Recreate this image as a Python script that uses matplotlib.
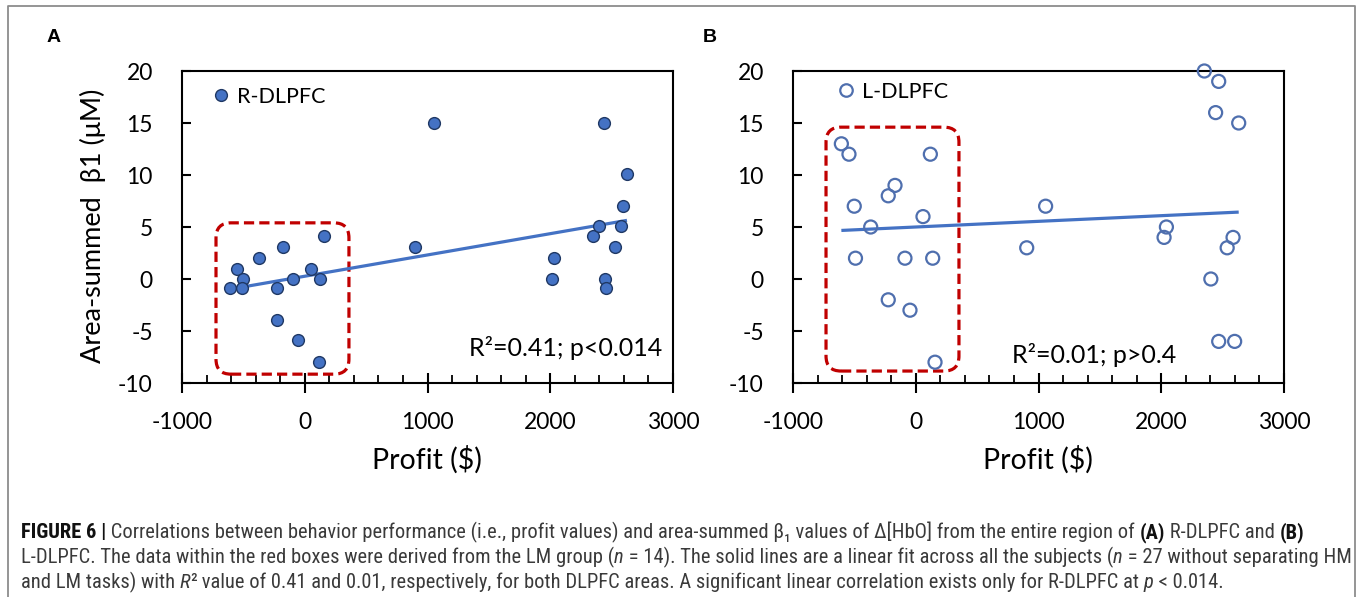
import numpy as np
import matplotlib
matplotlib.use("Agg")
import matplotlib.pyplot as plt
from matplotlib.patches import FancyBboxPatch
from matplotlib.lines import Line2D
from matplotlib.ticker import MultipleLocator
from matplotlib import font_manager
from matplotlib.font_manager import FontProperties

# ---------------- data ----------------
profit_r = [-609, -549, -500, -509, -373, -229, -177, -229, -93, -59, 51, 122, 154, 114,
            898, 1053, 2014, 2033, 2345, 2397, 2437, 2448, 2454, 2527, 2576, 2593, 2625]
beta_r = [-0.9, 1.0, 0.0, -0.9, 2.0, -0.9, 3.1, -3.9, 0.0, -5.9, 1.0, 0.0, 4.1, -8.0,
          3.1, 15.0, 0.0, 2.0, 4.1, 5.1, 15.0, 0.0, -0.9, 3.1, 5.1, 7.0, 10.1]

profit_l = [-606, -544, -501, -367, -491, -224, -169, -224, -88, -47, 59, 119, 138, 157,
            904, 1058, 2023, 2042, 2351, 2468, 2443, 2631, 2404, 2537, 2585, 2468, 2598]
beta_l = [13, 12, 7, 5, 2, 8, 9, -2, 2, -3, 6, 12, 2, -8,
          3, 7, 4, 5, 20, 19, 16, 15, 0, 3, 4, -6, -6]

series_names = ["R-DLPFC", "L-DLPFC"]
stats_text = ["R\u00b2=0.41; p<0.014", "R\u00b2=0.01; p>0.4"]
x_ticks = [-1000, 0, 1000, 2000, 3000]
y_ticks = [-10, -5, 0, 5, 10, 15, 20]
x_label = "Profit ($)"
y_label = "Area-summed  \u03b21 (\u03bcM)"
panel_labels = ["A", "B"]

# LM-group highlight boxes (data coords: x0, x1, y0, y1)
lm_box_a = (-723, 360, -9.15, 5.4)
lm_box_b = (-731, 352, -8.85, 14.6)

# ---------------- styling ----------------
W, H = 1357, 597
fig = plt.figure(figsize=(W / 100, H / 100), dpi=100)
fig.patch.set_facecolor("white")

TICK_FONT = ["Lato", "DejaVu Sans"]
BLUE = "#4472C4"
RED = "#C00000"


def px_axes(left, top, right, bottom):
    return fig.add_axes([left / W, 1 - bottom / H, (right - left) / W, (bottom - top) / H])


ax_a = px_axes(182, 71, 673, 383)
ax_b = px_axes(793, 71, 1284, 383)


def style_axes(ax):
    ax.set_xlim(-1000, 3000)
    ax.set_ylim(-10, 20)
    ax.set_xticks(x_ticks)
    ax.set_yticks(y_ticks)
    ax.xaxis.set_minor_locator(MultipleLocator(200))
    for s in ax.spines.values():
        s.set_linewidth(1.5)
        s.set_color("black")
    ax.tick_params(axis="x", which="major", direction="inout", length=14, width=1.5,
                   labelsize=16.5, pad=14)
    ax.tick_params(axis="x", which="minor", direction="in", length=5.5, width=1.3)
    ax.tick_params(axis="y", which="major", direction="in", length=6.5, width=1.5,
                   labelsize=16.5, pad=21)
    ax.tick_params(top=False, right=False, which="both")
    ax.set_xticklabels([str(t) for t in x_ticks])
    ax.set_yticklabels([str(t) for t in y_ticks])
    for lab in ax.get_xticklabels() + ax.get_yticklabels():
        lab.set_family(TICK_FONT)


def lm_box(ax, box):
    x0, x1, y0, y1 = box
    p0 = ax.transData.transform((0, 0))
    p1 = ax.transData.transform((1, 1))
    sx = p1[0] - p0[0]  # px per x-unit
    sy = p1[1] - p0[1]  # px per y-unit
    r_px = 15
    patch = FancyBboxPatch((x0, y0), x1 - x0, y1 - y0,
                           boxstyle=f"round,pad=0,rounding_size={r_px / sx}",
                           mutation_aspect=sx / sy,
                           fill=False, edgecolor=RED, linewidth=2.3,
                           linestyle=(0, (3.2, 1.6)), transform=ax.transData,
                           zorder=2, clip_on=False)
    ax.add_patch(patch)


def fit_line(ax, x, y):
    x = np.asarray(x, float)
    y = np.asarray(y, float)
    k, b = np.polyfit(x, y, 1)
    xs = np.array([x.min(), x.max()])
    ax.plot(xs, k * xs + b, color=BLUE, linewidth=2.3, zorder=3, solid_capstyle="butt")


for ax in (ax_a, ax_b):
    style_axes(ax)

# Panel A
lm_box(ax_a, lm_box_a)
fit_line(ax_a, profit_r, beta_r)
ax_a.scatter(profit_r, beta_r, s=72, facecolor=BLUE, edgecolor="#1F3864",
             linewidth=1.0, zorder=4, clip_on=False)

# Panel B
lm_box(ax_b, lm_box_b)
fit_line(ax_b, profit_l, beta_l)
ax_b.scatter(profit_l, beta_l, s=88, facecolor="none", edgecolor="#4F6FAE",
             linewidth=1.6, zorder=4, clip_on=False)

# Legends
leg_kw = dict(frameon=False, handlelength=0.6, handletextpad=0.45, borderpad=0,
              borderaxespad=0, loc="center left", prop={"family": TICK_FONT, "size": 15.5})
h_a = Line2D([], [], linestyle="none", marker="o", markersize=8.5,
             markerfacecolor=BLUE, markeredgecolor="#1F3864", markeredgewidth=1.0)
h_b = Line2D([], [], linestyle="none", marker="o", markersize=9,
             markerfacecolor="none", markeredgecolor="#4F6FAE", markeredgewidth=1.6)
ax_a.legend([h_a], [series_names[0]], bbox_to_anchor=(0.066, 0.917), **leg_kw)
ax_b.legend([h_b], [series_names[1]], bbox_to_anchor=(0.094, 0.933), **leg_kw)

# Stats annotations
ax_a.text(0.978, 0.112, stats_text[0], transform=ax_a.transAxes, ha="right", va="center",
          fontsize=18, family=TICK_FONT, zorder=5)
ax_b.text(0.780, 0.09, stats_text[1], transform=ax_b.transAxes, ha="right", va="center",
          fontsize=18, family=TICK_FONT, zorder=5)

# Axis labels
fig.text(427 / W, 1 - 460 / H, x_label, ha="center", va="center", fontsize=20.5, family=TICK_FONT)
fig.text(1038 / W, 1 - 460 / H, x_label, ha="center", va="center", fontsize=20.5, family=TICK_FONT)
fig.text(93 / W, 1 - 226 / H, y_label, ha="center", va="center", rotation=90,
         fontsize=19.5, family=TICK_FONT)

# Panel labels
fig.text(54 / W, 1 - 38 / H, panel_labels[0], ha="center", va="center", fontsize=14,
         fontweight="bold", family=["Liberation Sans", "DejaVu Sans"])
fig.text(710 / W, 1 - 38 / H, panel_labels[1], ha="center", va="center", fontsize=14,
         fontweight="bold", family=["Liberation Sans", "DejaVu Sans"])

# Outer frame (left, top, right)
fig.add_artist(Line2D([8 / W, 8 / W, 1355 / W, 1355 / W], [0, 1 - 6 / H, 1 - 6 / H, 0],
                      transform=fig.transFigure, color="#8C8C8C", linewidth=1.3))

# ---------------- caption ----------------
installed = {f.name for f in font_manager.fontManager.ttflist}
if "Liberation Sans Narrow" in installed:
    CAP_FONT = ["Liberation Sans Narrow", "DejaVu Sans"]
elif "Roboto Condensed" in installed:
    CAP_FONT = ["Roboto Condensed", "DejaVu Sans"]
else:
    CAP_FONT = ["Roboto", "DejaVu Sans"]
CAP_COLOR = "#3A3A3A"
renderer = fig.canvas.get_renderer()

N, B, I = "normal", "bold", "italic"
cap_lines = [
    [("FIGURE 6 |", B), (" Correlations between behavior performance (i.e., profit values) and area-summed \u03b2\u2081 values of \u0394[HbO] from the entire region of ", N),
     ("(A)", B), (" R-DLPFC and ", N), ("(B)", B)],
    [("L-DLPFC. The data within the red boxes were derived from the LM group (", N), ("n", I),
     (" = 14). The solid lines are a linear fit across all the subjects (", N), ("n", I),
     (" = 27 without separating HM", N)],
    [("and LM tasks) with ", N), ("R", I), ("\u00b2", N),
     (" value of 0.41 and 0.01, respectively, for both DLPFC areas. A significant linear correlation exists only for R-DLPFC at ", N),
     ("p", I), (" < 0.014.", N)],
]
line_ends = [1321, 1340, 1153]


def seg_width(txt, style, size):
    fp = FontProperties(family=CAP_FONT, size=size,
                        weight="bold" if style == B else "normal",
                        style="italic" if style == I else "normal")
    w1, _, _ = renderer.get_text_width_height_descent("X" + txt + "X", fp, ismath=False)
    w0, _, _ = renderer.get_text_width_height_descent("XX", fp, ismath=False)
    return w1 - w0


def line_width(line, size):
    return sum(seg_width(t, s, size) for t, s in line)


CAP_X0 = 21.0
base = 10.0
cap_size = min(base * (end - CAP_X0) / line_width(line, base)
               for line, end in zip(cap_lines[:2], line_ends[:2]))

baselines = [538, 563, 588]
for line, yb in zip(cap_lines, baselines):
    x = CAP_X0
    for txt, style in line:
        fig.text(x / W, 1 - yb / H, txt, ha="left", va="baseline", fontsize=cap_size,
                 family=CAP_FONT, color="#111111" if style == B else CAP_COLOR,
                 fontweight="bold" if style == B else "normal",
                 fontstyle="italic" if style == I else "normal")
        x += seg_width(txt, style, cap_size)

fig.savefig("out.png", dpi=100, facecolor="white")
